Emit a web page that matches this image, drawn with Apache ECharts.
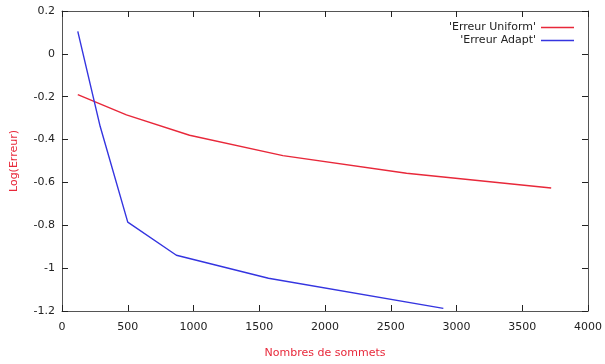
<!DOCTYPE html>
<html>
<head>
<meta charset="utf-8">
<script src="https://cdn.jsdelivr.net/npm/echarts@6/dist/echarts.min.js"></script>
<style>html,body{margin:0;padding:0;background:#fff}#c{width:605px;height:364px}</style>
</head>
<body>
<div id="c"></div>
<script>
const seriesNames = ["'Erreur Uniform'", "'Erreur Adapt'"];
const uniformX = [120, 490, 970, 1680, 2620, 3720];
const uniformY = [-0.19, -0.285, -0.38, -0.475, -0.557, -0.626];
const adaptX = [120, 290, 500, 870, 1570, 2900];
const adaptY = [0.105, -0.338, -0.785, -0.94, -1.047, -1.188];
const xTicks = [0, 500, 1000, 1500, 2000, 2500, 3000, 3500, 4000];
const yTicks = [-1.2, -1, -0.8, -0.6, -0.4, -0.2, 0, 0.2];
const xTitle = 'Nombres de sommets';
const yTitle = 'Log(Erreur)';

const font = 'DejaVu Sans';
const axisColor = '#555';
const red = '#e8283a';
const blue = '#3535e0';

function pairs(xs, ys) { return xs.map((x, i) => [x, ys[i]]); }

const chart = echarts.init(document.getElementById('c'));
const baseX = {
  type: 'value', min: xTicks[0], max: xTicks[xTicks.length - 1], interval: 500,
  axisLine: { show: true, onZero: false, lineStyle: { color: axisColor, width: 1 } },
  axisTick: { show: true, inside: true, length: 6, lineStyle: { color: '#222' } },
  splitLine: { show: false }
};
const baseY = {
  type: 'value', min: yTicks[0], max: yTicks[yTicks.length - 1], interval: 0.2,
  axisLine: { show: true, onZero: false, lineStyle: { color: axisColor, width: 1 } },
  axisTick: { show: true, inside: true, length: 6, lineStyle: { color: '#222' } },
  splitLine: { show: false }
};
chart.setOption({
  animation: false,
  backgroundColor: '#fff',
  grid: { left: 62, right: 16, top: 11, bottom: 48, containLabel: false },
  legend: {
    orient: 'vertical', right: 26, top: 17, align: 'right',
    icon: 'rect', itemWidth: 33, itemHeight: 1.5, itemGap: 2,
    textStyle: { fontFamily: font, fontSize: 11, color: '#222' },
    data: seriesNames
  },
  xAxis: [
    Object.assign({}, baseX, {
      position: 'bottom',
      name: xTitle, nameLocation: 'middle', nameGap: 37,
      nameTextStyle: { fontFamily: font, fontSize: 11, color: red },
      axisLabel: { fontFamily: font, fontSize: 11, color: '#222', margin: 11,
        formatter: v => String(v) }
    }),
    Object.assign({}, baseX, { position: 'top', axisLabel: { show: false } })
  ],
  yAxis: [
    Object.assign({}, baseY, {
      position: 'left',
      name: yTitle, nameLocation: 'middle', nameGap: 42,
      nameTextStyle: { fontFamily: font, fontSize: 11, color: red },
      axisLabel: { fontFamily: font, fontSize: 11, color: '#222', margin: 7,
        formatter: v => String(Math.round(v * 10) / 10) }
    }),
    Object.assign({}, baseY, { position: 'right', axisLabel: { show: false } })
  ],
  series: [
    { name: seriesNames[0], type: 'line', symbol: 'none', data: pairs(uniformX, uniformY),
      lineStyle: { color: red, width: 1.4 }, itemStyle: { color: red } },
    { name: seriesNames[1], type: 'line', symbol: 'none', data: pairs(adaptX, adaptY),
      lineStyle: { color: blue, width: 1.4 }, itemStyle: { color: blue } }
  ]
});
</script>
</body>
</html>
